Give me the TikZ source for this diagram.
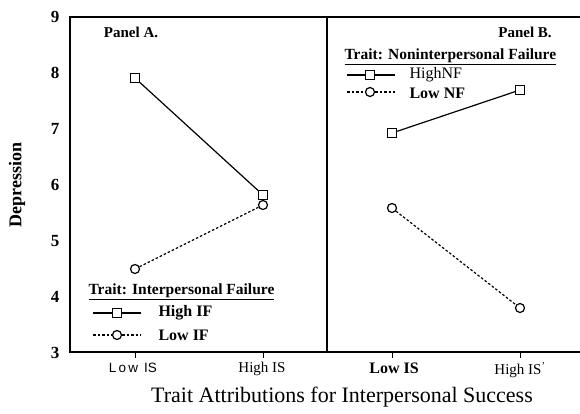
\documentclass[tikz,border=0pt]{standalone}
\usepackage{fontspec}
\setmainfont{Liberation Serif}
\setsansfont{Liberation Sans}
\begin{document}
\begin{tikzpicture}[x=1pt,y=-1pt,
  frame/.style={line width=1.6pt},
  sq/.style={draw,line width=1.2pt,fill=white,minimum size=9pt,inner sep=0pt,rectangle},
  ci/.style={draw,line width=1.2pt,fill=white,minimum size=9pt,inner sep=0pt,circle},
  solidline/.style={line width=1.2pt},
  dashline/.style={line width=1.2pt,dash pattern=on 2.5pt off 2pt},
  ylab/.style={font=\bfseries\fontsize{17}{17}\selectfont,anchor=east},
  xlab/.style={font=\fontsize{15}{15}\selectfont,anchor=north},
  legtext/.style={font=\bfseries\fontsize{16}{16}\selectfont,anchor=west},
  legtitle/.style={font=\bfseries\fontsize{15.5}{16}\selectfont,anchor=west}]
\useasboundingbox (0,0) rectangle (580,413);
% frame
\coordinate (tl) at (70,17);
\coordinate (tr) at (580,17);
\coordinate (bl) at (70,352);
\coordinate (br) at (580,352);
\coordinate (mt) at (327,17);
\coordinate (mb) at (327,352);
\draw[frame] (tr) -- (tl) -- (bl) -- (br);
\draw[frame] (mt) -- (mb);
% y ticks
\foreach \v/\yy in {9/17,8/73,7/129,6/185,5/241,4/297,3/353}{
  \node[ylab] (y\v) at (63,\yy) {\v};
}
% x ticks
\foreach \n/\xx in {a/135,b/263,c/392,d/520}{
  \coordinate (t\n) at (\xx,352);
  \coordinate (u\n) at (\xx,358);
  \draw[line width=1pt] (t\n) -- (u\n);
}
\node[xlab,font=\sffamily\fontsize{13.5}{14}\selectfont] (xa) at (133,360) {L\,o\,w\, IS};
\node[xlab] (xb) at (262,359) {High IS};
\node[xlab,font=\bfseries\fontsize{16}{16}\selectfont] (xc) at (394,359) {Low IS};
\node[xlab] (xd) at (520,359) {High IS\textsuperscript{'}};
\node[font=\fontsize{22}{24}\selectfont] (xt) at (342,397) {Trait Attributions for Interpersonal Success};
\node[rotate=90,font=\bfseries\fontsize{18}{20}\selectfont] (yt) at (17,185) {Depression};
% panel labels
\node[font=\bfseries\fontsize{15}{16}\selectfont] (pa) at (131,32) {Panel A.};
\node[font=\bfseries\fontsize{15}{16}\selectfont] (pb) at (525,32) {Panel B.};
% Panel A data
\node[sq] (a1) at (135,78) {};
\node[sq] (a2) at (263,195) {};
\node[ci] (a3) at (135,269) {};
\node[ci] (a4) at (263,205) {};
\draw[solidline] (a1) -- (a2);
\draw[dashline] (a3) -- (a4);
% Panel B data
\node[sq] (b1) at (392,133) {};
\node[sq] (b2) at (520,90) {};
\node[ci] (b3) at (392,208) {};
\node[ci] (b4) at (520,308) {};
\draw[solidline] (b1) -- (b2);
\draw[dashline] (b3) -- (b4);
% Legend A
\node[legtitle] (la) at (85,292) {\underline{Trait: Interpersonal Failure}};
\coordinate (la1l) at (93,313);
\coordinate (la1r) at (141,313);
\node[sq] (la1) at (117,313) {};
\draw[solidline] (la1l) -- (la1) -- (la1r);
\node[legtext] (lat1) at (155,313) {High IF};
\coordinate (la2l) at (93,335);
\coordinate (la2r) at (141,335);
\node[ci] (la2) at (117,335) {};
\draw[dashline] (la2l) -- (la2) -- (la2r);
\node[legtext] (lat2) at (155,335) {Low IF};
% Legend B
\node[legtitle] (lb) at (341,57) {\underline{Trait: Noninterpersonal Failure}};
\coordinate (lb1l) at (347,75);
\coordinate (lb1r) at (395,75);
\node[sq] (lb1) at (370,75) {};
\draw[solidline] (lb1l) -- (lb1) -- (lb1r);
\node[legtext,font=\fontsize{16}{16}\selectfont] (lbt1) at (406,75) {HighNF};
\coordinate (lb2l) at (347,92);
\coordinate (lb2r) at (395,92);
\node[ci] (lb2) at (370,92) {};
\draw[dashline] (lb2l) -- (lb2) -- (lb2r);
\node[legtext] (lbt2) at (406,93) {Low NF};
\end{tikzpicture}
\end{document}
